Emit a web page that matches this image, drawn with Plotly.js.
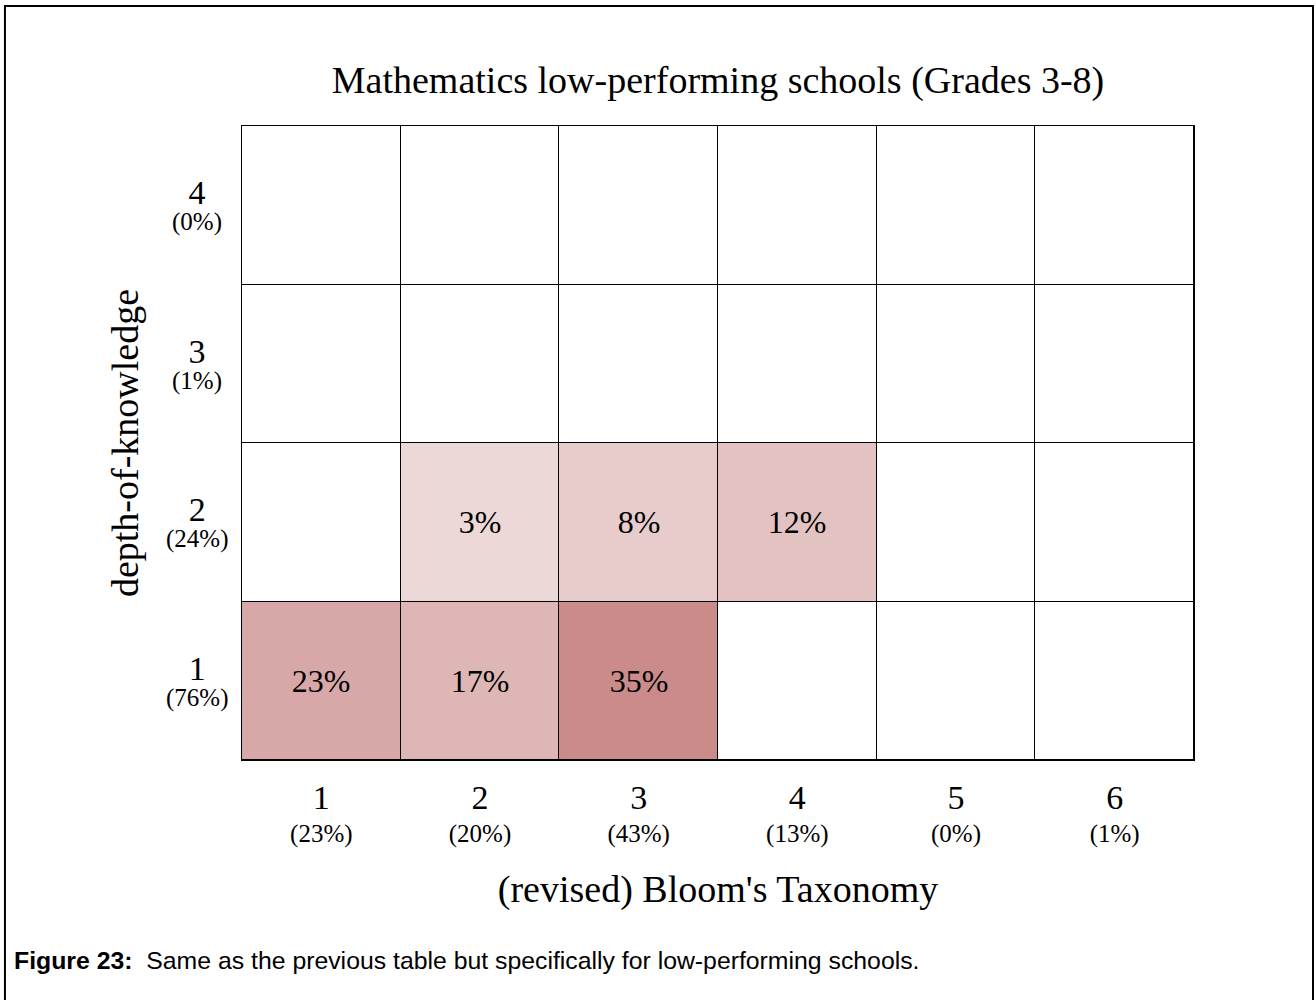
<!DOCTYPE html>
<html>
<head>
<meta charset="utf-8">
<script src="https://cdn.plot.ly/plotly-3.0.1.min.js"></script>
<style>
  html, body { margin: 0; padding: 0; background: #ffffff; }
  #chart { width: 1316px; height: 1000px; }
</style>
</head>
<body>
<div id="chart"></div>
<script>
// ---- data ----
const bloomLevels = [1, 2, 3, 4, 5, 6];
const bloomShares = ['23%', '20%', '43%', '13%', '0%', '1%'];
const dokLevels = [1, 2, 3, 4];
const dokShares = ['76%', '24%', '1%', '0%'];
// cell percentages, one row per depth-of-knowledge level (1..4), columns Bloom 1..6
const dok1 = [23, 17, 35, 0, 0, 0];
const dok2 = [0, 3, 8, 12, 0, 0];
const dok3 = [0, 0, 0, 0, 0, 0];
const dok4 = [0, 0, 0, 0, 0, 0];
const titleText = 'Mathematics low-performing schools (Grades 3-8)';
const xTitle = "(revised) Bloom's Taxonomy";
const yTitle = 'depth-of-knowledge';
const captionLabel = 'Figure 23:';
const captionText = 'Same as the previous table but specifically for low-performing schools.';

// ---- build ----
const zRows = [dok1, dok2, dok3, dok4];
const textRows = zRows.map(r => r.map(v => v > 0 ? v + '%' : ''));
const serif = 'Liberation Serif, Times New Roman, serif';

const xTickText = bloomLevels.map((b, i) =>
  '<span style="font-size:34px">' + b + '</span><br>(' + bloomShares[i] + ')');

const trace = {
  type: 'heatmap',
  x: bloomLevels,
  y: dokLevels,
  z: zRows,
  text: textRows,
  texttemplate: '%{text}',
  textfont: { family: serif, size: 32, color: '#000000' },
  colorscale: [[0, '#ffffff'], [0.001, 'rgb(240,223,223)'], [1, 'rgb(203,139,139)']],
  zmin: 0,
  zmax: 35,
  showscale: false,
  xgap: 1,
  ygap: 1,
  hoverinfo: 'skip'
};

const annotations = dokLevels.map((d, i) => ({
  xref: 'paper', yref: 'y',
  x: -0.047, y: d, yshift: 0,
  xanchor: 'center', yanchor: 'middle',
  align: 'center',
  showarrow: false,
  text: '<span style="font-size:34px">' + d + '</span><br><span style="font-size:25px">(' + dokShares[i] + ')</span>',
  font: { family: serif, size: 20, color: '#000000' }
}));

annotations.push({
  xref: 'paper', yref: 'paper',
  x: -0.2416, y: -0.3155,
  xanchor: 'left', yanchor: 'middle',
  align: 'left',
  showarrow: false,
  text: '<b>' + captionLabel + '</b>&nbsp;&nbsp;' + captionText,
  font: { family: 'Liberation Sans, Arial, sans-serif', size: 24.8, color: '#000000' }
});

const layout = {
  width: 1316,
  height: 1000,
  margin: { l: 242, r: 122, t: 126, b: 240, pad: 0 },
  paper_bgcolor: '#ffffff',
  plot_bgcolor: '#000000',
  showlegend: false,
  title: {
    text: titleText,
    font: { family: serif, size: 38, color: '#000000' },
    x: 0.5456, xanchor: 'center',
    yref: 'container', y: 0.92, yanchor: 'middle'
  },
  xaxis: {
    range: [0.5, 6.5],
    tickmode: 'array',
    tickvals: bloomLevels,
    ticktext: xTickText,
    ticks: '',
    ticklabelstandoff: 18,
    showgrid: false,
    zeroline: false,
    showline: true,
    mirror: true,
    linecolor: '#000000',
    linewidth: 1,
    tickfont: { family: serif, size: 25, color: '#000000' },
    title: { text: xTitle, font: { family: serif, size: 38, color: '#000000' }, standoff: 28 },
    fixedrange: true
  },
  yaxis: {
    range: [0.5, 4.5],
    tickmode: 'array',
    tickvals: dokLevels,
    showticklabels: false,
    ticks: '',
    showgrid: false,
    zeroline: false,
    showline: true,
    mirror: true,
    linecolor: '#000000',
    linewidth: 1,
    title: { text: yTitle, font: { family: serif, size: 38, color: '#000000' }, standoff: 90 },
    fixedrange: true
  },
  annotations: annotations,
  shapes: [{
    type: 'rect', xref: 'paper', yref: 'paper',
    x0: -0.249, x1: 1.125, y0: -0.5, y1: 1.1893,
    line: { color: '#000000', width: 2 },
    fillcolor: 'rgba(0,0,0,0)'
  }]
};

Plotly.newPlot('chart', [trace], layout, { staticPlot: true, displayModeBar: false });
</script>
</body>
</html>
